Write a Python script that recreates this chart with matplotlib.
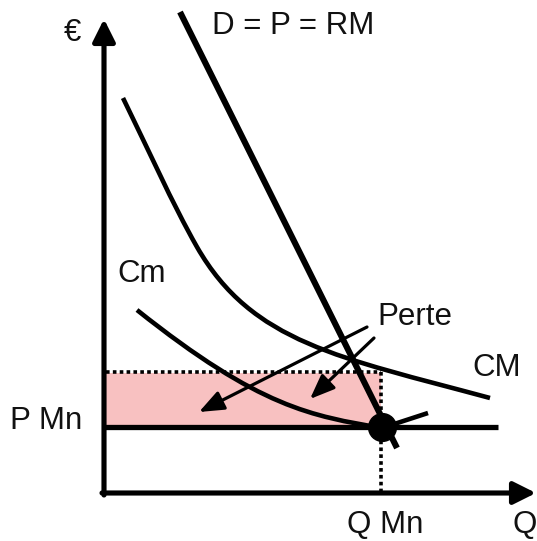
import matplotlib
matplotlib.use("Agg")
import matplotlib.pyplot as plt
from matplotlib.patches import Rectangle, PathPatch
from matplotlib.path import Path

plt.rcParams['font.family'] = ['Liberation Sans', 'DejaVu Sans']

# Coordinates in pixel space of the diagram (y grows downward)
# Demand line D = P = RM
demand_x = [180, 397]
demand_y = [12, 448]

# Average cost curve CM: cubic Bezier nodes/control points (two segments)
cm_avg_x = [123, 148, 172, 197, 252, 340, 490]
cm_avg_y = [98, 149, 203, 247, 343, 357.5, 398]

# Marginal cost curve Cm: cubic Bezier to the minimum, then rising segment
cm_marg_x = [137, 260, 312, 382, 428]
cm_marg_y = [310, 408, 416, 428, 413]

# Monopoly equilibrium
q_mn = 381
p_mn = 427
pmn_line_x = [104, 498]
loss_top = 372

# Axis extents
axis_origin = (104, 493)
y_axis_tip = 19
x_axis_tip = 536

# "Perte" arrows (start, tip)
arrows = [((367, 327), (199, 412)), ((374, 338), (310, 399))]

labels = [
    ("€", 72, 33),
    ("D = P = RM", 293, 26),
    ("Cm", 142, 274),
    ("Perte", 415, 317),
    ("CM", 497, 368),
    ("P Mn", 46, 421),
    ("Q Mn", 385, 525),
    ("Q", 525, 525),
]

fig = plt.figure(figsize=(5.37, 5.41), dpi=100)
ax = fig.add_axes([0, 0, 1, 1])
ax.set_xlim(0, 537)
ax.set_ylim(541, 0)
ax.axis('off')

pink = '#F8C1C1'
ax.add_patch(Rectangle((axis_origin[0] + 2, loss_top + 1), q_mn - axis_origin[0] - 2,
                       p_mn - loss_top - 1, facecolor=pink, edgecolor='none', zorder=1))

# dotted lines
dot_kw = dict(color='k', lw=2.6, dashes=(1.0, 0.9), dash_capstyle='butt', zorder=2)
ax.plot([axis_origin[0] + 2, q_mn], [loss_top, loss_top], **dot_kw)
ax.plot([q_mn, q_mn], [loss_top, axis_origin[1]], **dot_kw)

# axes with arrows
arrow_axis = dict(arrowstyle='-|>,head_length=0.9,head_width=0.45', lw=3.7,
                  color='k', shrinkA=0, shrinkB=0, mutation_scale=15)
ax.annotate('', xy=(axis_origin[0], y_axis_tip), xytext=(axis_origin[0], axis_origin[1] + 2),
            arrowprops=arrow_axis, zorder=3)
ax.annotate('', xy=(x_axis_tip, axis_origin[1]), xytext=(axis_origin[0] - 2, axis_origin[1]),
            arrowprops=arrow_axis, zorder=3)

# P Mn horizontal line
ax.plot(pmn_line_x, [p_mn, p_mn], color='k', lw=3.8, solid_capstyle='butt', zorder=3)

# curves as Bezier paths
cm_avg_path = Path(list(zip(cm_avg_x, cm_avg_y)),
                   [Path.MOVETO] + [Path.CURVE4] * 6)
ax.add_patch(PathPatch(cm_avg_path, facecolor='none', edgecolor='k', lw=3.3,
                       capstyle='butt', zorder=3))
cm_marg_path = Path(list(zip(cm_marg_x, cm_marg_y)),
                    [Path.MOVETO, Path.CURVE4, Path.CURVE4, Path.CURVE4, Path.LINETO])
ax.add_patch(PathPatch(cm_marg_path, facecolor='none', edgecolor='k', lw=3.3,
                       capstyle='butt', joinstyle='round', zorder=3))

ax.plot(demand_x, demand_y, color='k', lw=4.4, solid_capstyle='butt', zorder=4)

# equilibrium dot
ax.plot([q_mn + 1], [p_mn], 'o', color='k', markersize=20, zorder=5)

# Perte arrows
for (sx, sy), (tx, ty) in arrows:
    ax.annotate('', xy=(tx, ty), xytext=(sx, sy),
                arrowprops=dict(arrowstyle='-|>,head_length=0.75,head_width=0.3', lw=2.3,
                                color='k', shrinkA=0, shrinkB=0, mutation_scale=20), zorder=4)

for txt, x, y in labels:
    ax.text(x, y, txt, fontsize=22.5, ha='center', va='center', color='#111111', zorder=6)

fig.savefig('out.png', dpi=100)
